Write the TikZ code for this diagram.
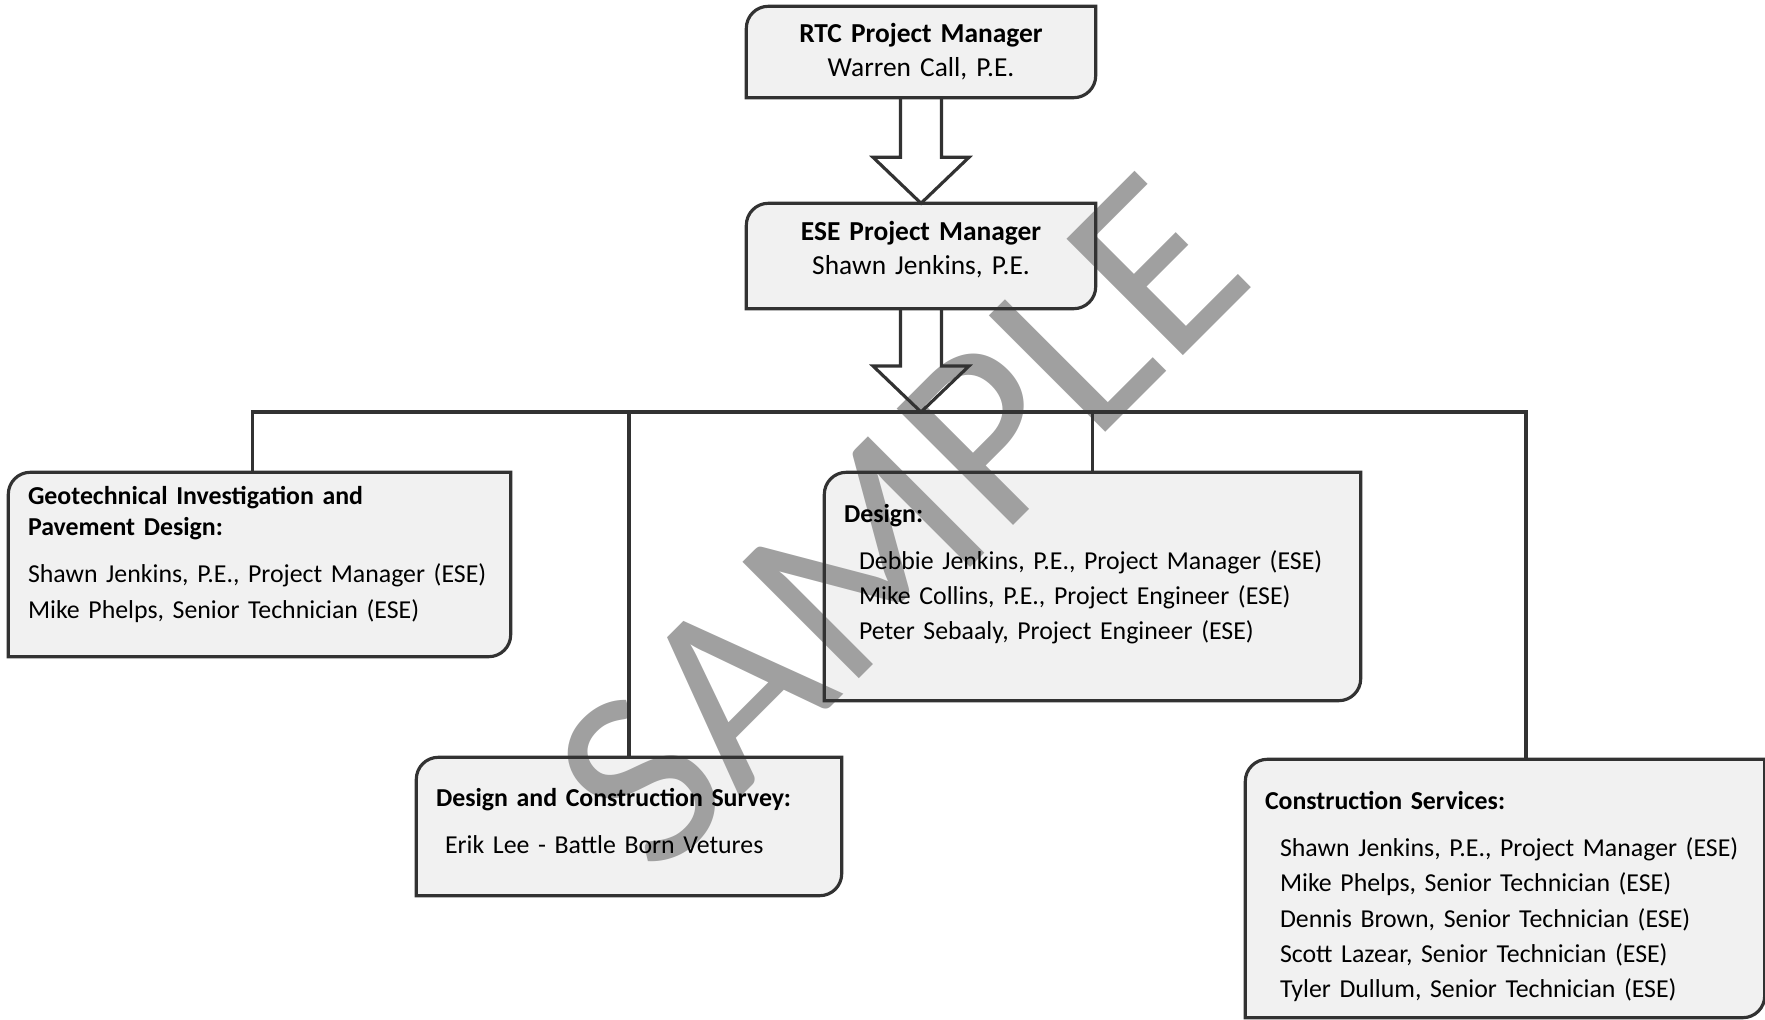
\documentclass[tikz,border=0pt]{standalone}
\usepackage{fontspec}
\setmainfont{Carlito}
\usetikzlibrary{backgrounds}

\definecolor{boxgray}{RGB}{241,241,241}
\definecolor{linegray}{RGB}{50,50,50}
\definecolor{markgray}{RGB}{160,160,160}

\tikzset{
  orgbox/.style={inner xsep=1.9mm, inner ysep=0pt, align=left, font=\fontsize{7.35}{10}\selectfont},
  topbox/.style={orgbox, align=center, text width=3.10cm, font=\fontsize{7.8}{9.7}\selectfont},
  boxline/.style={draw=linegray, line width=0.9pt},
  link/.style={draw=linegray, line width=0.9pt, line join=miter},
  watermark/.style={rotate=45, text=markgray, font=\fontsize{73}{73}\selectfont},
  orgshape/.style={insert path={([yshift=-2.2mm]#1.north west) arc[start angle=180, end angle=90, radius=2.2mm] -- (#1.north east) -- ([yshift=2.2mm]#1.south east) arc[start angle=0, end angle=-90, radius=2.2mm] -- (#1.south west) -- cycle}}
}

\begin{document}
\begin{tikzpicture}

\useasboundingbox (0,0) rectangle (17.65,10.19);

% managers
\node [topbox, minimum height=0.9cm] (rtc) at (9.21,9.67) {\textbf{RTC Project Manager}\\Warren Call, P.E.};
\node [topbox, minimum height=1.04cm] (ese) at (9.21,7.63) {\textbf{ESE Project Manager}\\Shawn Jenkins, P.E.\\[-5pt]\mbox{}};

% teams
\node [orgbox, text width=4.63cm, minimum height=1.83cm] (geo) at (2.595,4.545) {\textbf{Geotechnical Investigation and}\\[-1.1pt]\textbf{Pavement Design:}\\[3.4pt]\mbox{Shawn Jenkins, P.E., Project Manager (ESE)}\\Mike Phelps, Senior Technician (ESE)\\[-3pt]\mbox{}};
\node [orgbox, text width=3.86cm, minimum height=1.37cm] (survey) at (6.29,1.925) {\textbf{Design and Construction Survey:}\\[3.4pt]\hspace*{0.9mm}Erik Lee - Battle Born Vetures\\[-7pt]\mbox{}};
\node [orgbox, text width=4.97cm, minimum height=2.27cm] (design) at (10.925,4.325) {\textbf{Design:}\\[3.4pt]\hspace*{1.5mm}Debbie Jenkins, P.E., Project Manager (ESE)\\\hspace*{1.5mm}Mike Collins, P.E., Project Engineer (ESE)\\\hspace*{1.5mm}Peter Sebaaly, Project Engineer (ESE)\\[-1.6pt]\mbox{}};
\node [orgbox, text width=4.80cm, minimum height=2.57cm] (cons) at (15.05,1.305) {\mbox{}\\[-0.3pt]\textbf{Construction Services:}\\[3.4pt]\hspace*{1.5mm}\mbox{Shawn Jenkins, P.E., Project Manager (ESE)}\\\hspace*{1.5mm}Mike Phelps, Senior Technician (ESE)\\\hspace*{1.5mm}Dennis Brown, Senior Technician (ESE)\\\hspace*{1.5mm}Scott Lazear, Senior Technician (ESE)\\\hspace*{1.5mm}Tyler Dullum, Senior Technician (ESE)};

\coordinate (hub) at (ese.south |- 0,6.07);

\begin{pgfonlayer}{background}
\foreach \b in {rtc,ese,geo,survey,design,cons}
  \fill [boxgray, orgshape=\b];
\node [watermark] (sample) at (9.0,4.97) {SAMPLE};
\end{pgfonlayer}

\foreach \b in {rtc,ese,geo,survey,design,cons}
  \draw [boxline, orgshape=\b];

% block arrows
\draw [link] ([xshift=-2.05mm]rtc.south) -- ([xshift=-2.05mm,yshift=4.6mm]ese.north) -- ([xshift=-4.8mm,yshift=4.6mm]ese.north) -- (ese.north) -- ([xshift=4.8mm,yshift=4.6mm]ese.north) -- ([xshift=2.05mm,yshift=4.6mm]ese.north) -- ([xshift=2.05mm]rtc.south);
\draw [link] ([xshift=-2.05mm]ese.south) -- ([xshift=-2.05mm,yshift=4.6mm]hub) -- ([xshift=-4.8mm,yshift=4.6mm]hub) -- (hub) -- ([xshift=4.8mm,yshift=4.6mm]hub) -- ([xshift=2.05mm,yshift=4.6mm]hub) -- ([xshift=2.05mm]ese.south);

% bus
\draw [link] ([xshift=-0.7mm]geo.north) |- (hub) -| ([xshift=2.1mm]cons.north);
\draw [link] (survey.north) -- (survey.north |- hub);
\draw [link] (design.north) -- (design.north |- hub);

\end{tikzpicture}
\end{document}
